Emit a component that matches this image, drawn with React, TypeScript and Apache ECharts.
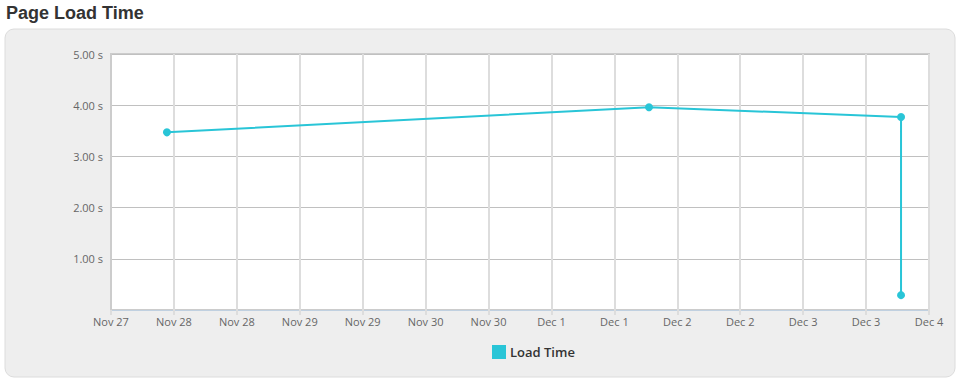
import React, { useEffect, useRef } from "react";
import * as echarts from "echarts";

const H = 3600 * 1000;
const seriesName = "Load Time";
// timestamps (UTC) and load times in seconds
const times = [
  Date.UTC(2023, 10, 27, 22, 40),
  Date.UTC(2023, 11, 1, 18, 36),
  Date.UTC(2023, 11, 3, 18, 40),
  Date.UTC(2023, 11, 3, 18, 40),
];
const values = [3.47, 3.96, 3.77, 0.29];
const xMin = Date.UTC(2023, 10, 27, 12, 0);
const xMax = Date.UTC(2023, 11, 4, 0, 0);
const yTicks = [0, 1, 2, 3, 4, 5];
const months = ["Jan", "Feb", "Mar", "Apr", "May", "Jun", "Jul", "Aug", "Sep", "Oct", "Nov", "Dec"];

export default function App() {
  const ref = useRef<HTMLDivElement>(null);
  useEffect(() => {
    document.body.style.margin = "0";
    const chart = echarts.init(ref.current!, null, { renderer: "svg" });
    const font = "'Open Sans', 'DejaVu Sans', sans-serif";
    chart.setOption({
      animation: false,
      graphic: [
        {
          type: "rect",
          z: -10,
          shape: { x: 5, y: 29, width: 950, height: 348, r: 9 },
          style: { fill: "#eeeeee", stroke: "#dcdcdc", lineWidth: 1 },
          silent: true,
        },
        {
          type: "text",
          x: 6,
          y: 4,
          style: {
            text: "Page Load Time",
            fill: "#333333",
            font: "bold 18px 'Liberation Sans', Arial, sans-serif",
          },
        },
      ],
      legend: {
        left: 492,
        top: 345,
        padding: 0,
        itemWidth: 14,
        itemHeight: 14,
        itemGap: 4,
        icon: "rect",
        textStyle: { color: "#333", fontSize: 13, fontWeight: 600, fontFamily: font, padding: [0, 0, 0, -1] },
        data: [seriesName],
      },
      grid: {
        left: 111,
        top: 54,
        width: 818,
        height: 256,
        show: true,
        backgroundColor: "#ffffff",
        borderColor: "#cccccc",
        borderWidth: 2,
        containLabel: false,
      },
      xAxis: {
        type: "value",
        min: xMin,
        max: xMax,
        interval: 12 * H,
        axisLine: { show: true, lineStyle: { color: "#c0d0e0", width: 1 } },
        axisTick: { show: true, length: 5, lineStyle: { color: "#dddddd", width: 2 } },
        splitLine: { show: true, lineStyle: { color: "#dddddd", width: 2 } },
        axisLabel: {
          color: "#666666",
          fontSize: 11,
          fontFamily: font,
          margin: 6,
          showMaxLabel: true,
          formatter: (v: number) => {
            const d = new Date(v);
            return months[d.getUTCMonth()] + " " + d.getUTCDate();
          },
        },
      },
      yAxis: {
        type: "value",
        min: yTicks[0],
        max: yTicks[yTicks.length - 1],
        interval: 1,
        axisLine: { show: true, lineStyle: { color: "#cccccc", width: 2 } },
        axisTick: { show: false },
        splitLine: { show: true, lineStyle: { color: "#c0c0c0", width: 1 } },
        axisLabel: {
          color: "#666666",
          fontSize: 11,
          fontFamily: font,
          margin: 8,
          formatter: (v: number) => (v === 0 ? "" : v.toFixed(2) + " s"),
        },
      },
      series: [
        {
          name: seriesName,
          type: "line",
          data: times.map((t, i) => [t, values[i]]),
          color: "#29c5d7",
          lineStyle: { width: 2, color: "#29c5d7" },
          symbol: "circle",
          symbolSize: 8,
          itemStyle: { color: "#29c5d7" },
        },
      ],
    });
    return () => chart.dispose();
  }, []);
  return <div ref={ref} style={{ position: "absolute", left: 0, top: 0, width: 962, height: 382 }} />;
}
